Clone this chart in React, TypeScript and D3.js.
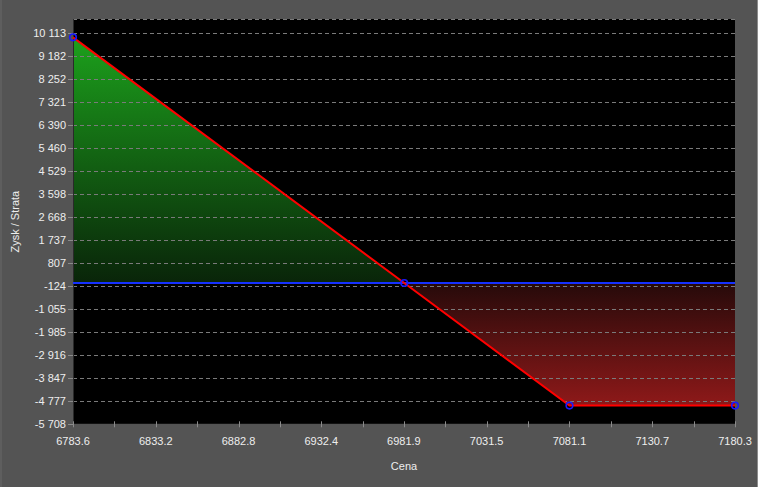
import React from "react";
import * as d3 from "d3";

const prices = [6783.6, 6982.1, 7081.1, 7180.3];
const profits = [9925, 0, -4950, -4950];
const xTicks = [6783.6, 6833.2, 6882.8, 6932.4, 6981.9, 7031.5, 7081.1, 7130.7, 7180.3];
const yTicks = [10113, 9182, 8252, 7321, 6390, 5460, 4529, 3598, 2668, 1737, 807, -124, -1055, -1985, -2916, -3847, -4777, -5708];
const yLabel = "Zysk / Strata";
const xLabel = "Cena";

const W = 775, H = 487;
const L = 73, R = 735, T = 19, B = 424.3;

export default function App() {
  const x = d3.scaleLinear().domain([6783.6, 7180.3]).range([L, R]);
  const y = d3.scaleLinear().domain([-5708, 10113]).range([B, 32.7]);
  const yMax = y.invert(T);
  const yy = d3.scaleLinear().domain([-5708, yMax]).range([B, T]);
  const fmt = d3.formatLocale({ decimal: ".", thousands: "\u00a0", grouping: [3], currency: ["", ""], minus: "-" }).format(",d");
  const pts = prices.map((p, i) => [p, profits[i]] as [number, number]);
  const zi = profits.findIndex((v) => v === 0);
  const greenPts = pts.slice(0, zi + 1);
  const redPts = pts.slice(zi);
  const area = d3.area<[number, number]>().x((d) => x(d[0])).y0(yy(0)).y1((d) => yy(d[1]));
  const line = d3.line<[number, number]>().x((d) => x(d[0])).y((d) => yy(d[1]));
  const minors: number[] = [];
  for (let i = 0; i < xTicks.length - 1; i++) minors.push((xTicks[i] + xTicks[i + 1]) / 2);
  const font = "'Liberation Sans', Arial, sans-serif";
  const maxP = d3.max(profits)!;
  const minP = d3.min(profits)!;
  return (
    <svg width={W} height={H} style={{ position: "fixed", left: 0, top: 0 }} fontFamily={font}>
      <defs>
        <linearGradient id="gG" gradientUnits="userSpaceOnUse" x1={0} x2={0} y1={yy(maxP)} y2={yy(0)}>
          <stop offset="0" stopColor="rgb(28,160,28)" />
          <stop offset="1" stopColor="rgb(9,36,9)" />
        </linearGradient>
        <linearGradient id="gR" gradientUnits="userSpaceOnUse" x1={0} x2={0} y1={yy(0)} y2={yy(minP)}>
          <stop offset="0" stopColor="rgb(38,10,10)" />
          <stop offset="1" stopColor="rgb(142,25,25)" />
        </linearGradient>
      </defs>
      <rect x={0} y={0} width={W} height={H} fill="#ffffff" />
      <rect x={0} y={0} width={757} height={H} fill="#545454" />
      <rect x={0} y={0} width={2} height={H} fill="#5e5e5e" />
      <rect x={757} y={0} width={1} height={H} fill="#8c8c8c" />
      <rect x={L} y={T} width={R - L} height={B - T} fill="#000000" />
      <path d={area(greenPts)!} fill="url(#gG)" />
      <path d={area(redPts)!} fill="url(#gR)" />
      <line x1={L} x2={R} y1={T + 0.5} y2={T + 0.5} stroke="#7a7a7a" strokeDasharray="4,3" />
      {yTicks.map((t) => (
        <g key={t}>
          {t !== -5708 && (
            <line x1={L} x2={R} y1={Math.round(yy(t)) + 0.5} y2={Math.round(yy(t)) + 0.5} stroke="#7a7a7a" strokeDasharray="4,3" />
          )}
          <line x1={L - 5} x2={L} y1={Math.round(yy(t)) + 0.5} y2={Math.round(yy(t)) + 0.5} stroke="#8a8a8a" />
          <text x={L - 7} y={yy(t)} dy="0.35em" textAnchor="end" fontSize={11} fill="#eeeeee">
            {fmt(t)}
          </text>
        </g>
      ))}
      <line x1={L + 0.5} x2={L + 0.5} y1={T} y2={B} stroke="#2a2a2a" />
      <line x1={L} x2={R} y1={B} y2={B} stroke="#5a5a5a" />
      {xTicks.concat(minors).map((t) => (
        <line key={"t" + t} x1={Math.round(x(t)) + 0.5} x2={Math.round(x(t)) + 0.5} y1={B - 3} y2={B + 3} stroke="#8a8a8a" />
      ))}
      {xTicks.map((t) => (
        <text key={t} x={x(t)} y={441} dy="0.35em" textAnchor="middle" fontSize={11} fill="#eeeeee">
          {t.toFixed(1)}
        </text>
      ))}
      <line x1={L} x2={R} y1={yy(0)} y2={yy(0)} stroke="#1530ff" strokeWidth={2} />
      <path d={line(pts)!} fill="none" stroke="#ff0000" strokeWidth={2} />
      {pts.map((d, i) => (
        <circle key={i} cx={x(d[0])} cy={yy(d[1])} r={3.3} fill="none" stroke="#1a1aff" strokeWidth={1.6} />
      ))}
      <text x={404} y={466} dy="0.35em" textAnchor="middle" fontSize={11} fill="#eeeeee">
        {xLabel}
      </text>
      <text transform={`translate(15,${(T + B) / 2}) rotate(-90)`} dy="0.35em" textAnchor="middle" fontSize={11} fill="#eeeeee">
        {yLabel}
      </text>
    </svg>
  );
}
